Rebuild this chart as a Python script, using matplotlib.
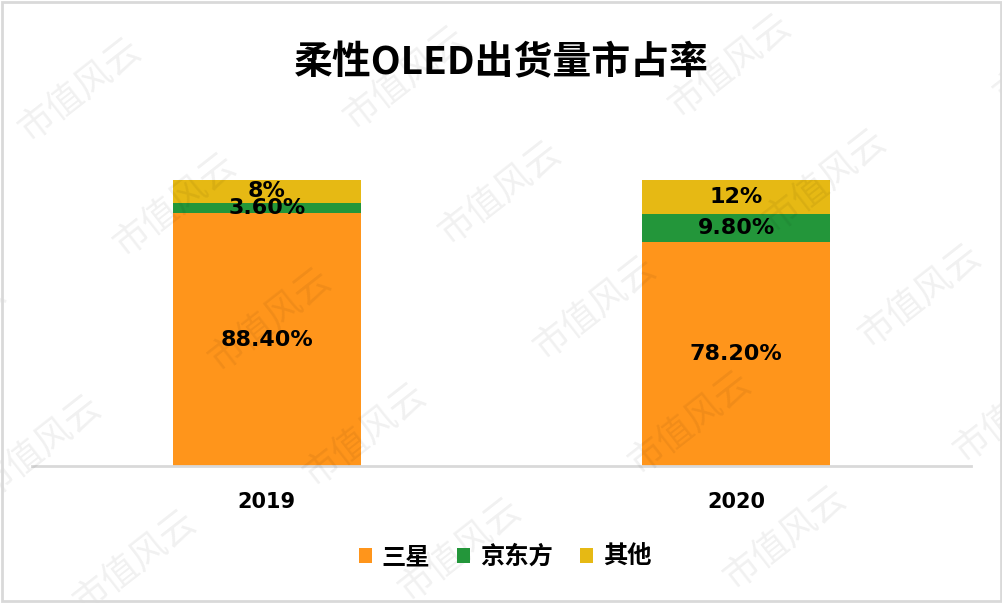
import matplotlib
matplotlib.use("Agg")
import matplotlib.pyplot as plt
from matplotlib.patches import Patch, Rectangle

plt.rcParams['font.family'] = ['Noto Sans CJK SC', 'DejaVu Sans']

title = "柔性OLED出货量市占率"
years = ["2019", "2020"]
series_names = ["三星", "京东方", "其他"]
samsung = [88.4, 78.2]
boe = [3.6, 9.8]
others = [8.0, 12.0]
label_texts = [["88.40%", "78.20%"], ["3.60%", "9.80%"], ["8%", "12%"]]
colors = ["#FF951B", "#23963A", "#E6B914"]

fig = plt.figure(figsize=(10.03, 6.03), dpi=100)
fig.patch.set_facecolor("white")

# watermarks
wm_base = (80, 90)
a = (325, -12)
b = (95, 115)
for i in range(-2, 4):
    for j in range(0, 5):
        x = wm_base[0] + i * a[0] + j * b[0]
        y = wm_base[1] + i * a[1] + j * b[1]
        if -60 < x < 1060 and -40 < y < 640:
            fig.text(x / 1003, 1 - y / 603, "市值风云", fontsize=26, color="#000000",
                     alpha=0.06, rotation=38, ha="center", va="center", zorder=0,
                     family=['Noto Sans CJK SC'], fontweight="light")

num_font = ['DejaVu Sans', 'Noto Sans CJK SC']

ax = fig.add_axes([32 / 1003, 137 / 603, 939 / 1003, 286 / 603])
ax.set_facecolor("none")
xs = list(range(len(years)))
values = [samsung, boe, others]
bottom = [0.0] * len(years)
for k, (vals, col) in enumerate(zip(values, colors)):
    ax.bar(xs, vals, width=0.4, bottom=bottom, color=col, label=series_names[k], zorder=2)
    for xi, (v, bt) in enumerate(zip(vals, bottom)):
        ax.text(xs[xi], bt + v / 2, label_texts[k][xi], ha="center", va="center",
                fontsize=16, fontweight="bold", color="black", zorder=3, family=num_font)
    bottom = [bt + v for bt, v in zip(bottom, vals)]

ax.set_xlim(-0.5, 1.5)
ax.set_ylim(0, 100)
for s in ["top", "right", "left"]:
    ax.spines[s].set_visible(False)
ax.spines["bottom"].set_color("#D9D9D9")
ax.spines["bottom"].set_linewidth(2)
ax.set_yticks([])
ax.set_xticks(xs)
ax.set_xticklabels(years, fontsize=15, fontweight="bold", family=num_font)
ax.tick_params(axis="x", length=0, pad=19)

fig.text(501 / 1003, 1 - 63 / 603, title, ha="center", va="center", fontsize=28,
         fontweight="bold")

handles = [Patch(facecolor=c, edgecolor="none") for c in colors]
fig.legend(handles, series_names, loc="center", bbox_to_anchor=(505 / 1003, 1 - 557 / 603),
           ncol=3, frameon=False, prop={"size": 17.5, "weight": "bold"},
           handlelength=0.55, handleheight=0.55, handletextpad=0.4, columnspacing=1.1)

fig.add_artist(Rectangle((0.002, 0.003), 0.996, 0.994, transform=fig.transFigure,
                         fill=False, edgecolor="#D9D9D9", linewidth=2))

fig.savefig("out.png", dpi=100)
